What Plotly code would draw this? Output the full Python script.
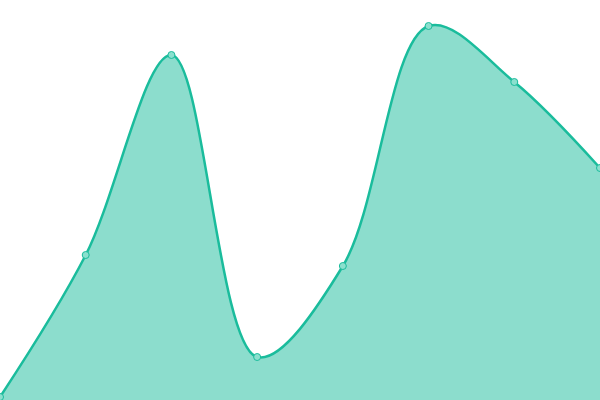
import plotly.graph_objects as go

# sample index and values
x_idx = [0, 1, 2, 3, 4, 5, 6, 7]
values = [3, 145, 345, 43, 134, 374, 318, 232]

line_color = "#1abc9c"
fill_color = "rgba(26,188,156,0.5)"

fig = go.Figure()
fig.add_trace(go.Scatter(
    x=x_idx, y=values,
    mode="lines+markers",
    line=dict(color=line_color, width=2.5, shape="spline", smoothing=1),
    marker=dict(size=7, color="#8be0ce", line=dict(color=line_color, width=1)),
    fill="tozeroy",
    fillcolor=fill_color,
    hoverinfo="skip",
))

fig.update_layout(
    width=600, height=400,
    margin=dict(l=0, r=0, t=0, b=0),
    paper_bgcolor="white", plot_bgcolor="white",
    showlegend=False,
    xaxis=dict(range=[0, 7], visible=False, fixedrange=True),
    yaxis=dict(range=[0, 400], visible=False, fixedrange=True),
)

# drop the browser's default body margin so the plot sits at the corner
fig.write_html("out.html", config={"displayModeBar": False},
               post_script="document.body.style.margin='0';")
